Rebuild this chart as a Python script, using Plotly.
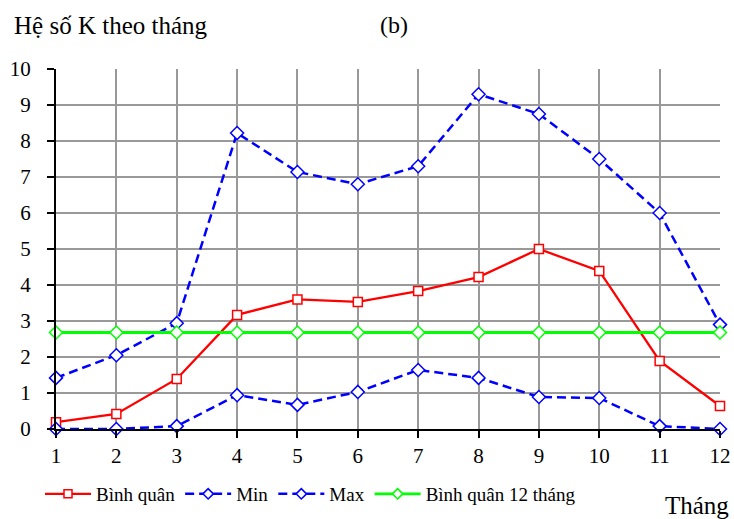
import plotly.graph_objects as go

thang = list(range(1, 13))
binh_quan = [0.19, 0.42, 1.39, 3.17, 3.60, 3.53, 3.83, 4.22, 5.00, 4.39, 1.89, 0.64]
k_min = [0.0, 0.0, 0.08, 0.94, 0.67, 1.03, 1.64, 1.42, 0.89, 0.86, 0.08, 0.0]
k_max = [1.42, 2.05, 2.94, 8.22, 7.14, 6.80, 7.30, 9.30, 8.75, 7.50, 6.00, 2.90]
binh_quan_12 = [2.68] * 12

FONT = "Liberation Serif"
DASH = "9px,5px"

series = [
    ("Bình quân", binh_quan, "#ff0000", "square", None, 2.3, 9),
    ("Min", k_min, "#0000ff", "diamond", DASH, 2.5, 10),
    ("Max", k_max, "#0000ff", "diamond", DASH, 2.5, 10),
    ("Bình quân 12 tháng", binh_quan_12, "#00ff00", "diamond", None, 2.8, 10),
]

fig = go.Figure()
for name, vals, color, symbol, dash, lw, ms in series:
    fig.add_trace(go.Scatter(
        x=thang, y=vals, name=name, mode="lines+markers", showlegend=False,
        line=dict(color=color, width=lw, dash=dash),
        marker=dict(symbol=symbol, size=ms, color="white",
                    line=dict(color=color, width=1.5)),
        cliponaxis=False))
# legend entries with smaller symbols
for name, vals, color, symbol, dash, lw, ms in series:
    fig.add_trace(go.Scatter(
        x=[None], y=[None], name=name, mode="lines+markers",
        line=dict(color=color, width=lw, dash=dash),
        marker=dict(symbol=symbol, size=8, color="white",
                    line=dict(color=color, width=1.5))))

W, H = 734, 519
L, R, T, B = 56, 14, 69, 90
pw, ph = W - L - R, H - T - B


def px_to_paper(px, py):
    return (px - L) / pw, (H - B - py) / ph


texts = [
    ("Hệ số K theo tháng", 12, 25, "left", 25),
    ("(b)", 378, 25, "left", 24),
    ("Tháng", 731, 506, "right", 25),
]
annotations = []
for txt, px, py, anchor, size in texts:
    ax, ay = px_to_paper(px, py)
    annotations.append(dict(text=txt, xref="paper", yref="paper", x=ax, y=ay,
                            xanchor=anchor, yanchor="middle", showarrow=False,
                            font=dict(family=FONT, size=size, color="black")))

lx, ly = px_to_paper(40, 494)
fig.update_layout(
    width=W, height=H,
    margin=dict(l=L, r=R, t=T, b=B, autoexpand=False),
    paper_bgcolor="white", plot_bgcolor="white",
    font=dict(family=FONT, size=21, color="black"),
    showlegend=True,
    legend=dict(orientation="h", x=lx, xanchor="left", y=ly, yanchor="middle",
                font=dict(family=FONT, size=19, color="black"), itemwidth=46,
                tracegroupgap=0, bgcolor="rgba(0,0,0,0)"),
    annotations=annotations,
)

axis_style = dict(showgrid=True, gridcolor="#999999", gridwidth=1.5,
                  showline=True, linecolor="black", linewidth=2,
                  ticks="outside", ticklen=7, tickcolor="black", tickwidth=1.5,
                  zeroline=False, automargin=False,
                  tickfont=dict(family=FONT, size=21, color="black"))
fig.update_xaxes(range=[1, 12], tickvals=thang, **axis_style)
fig.update_yaxes(range=[0, 10], dtick=1, ticklabelstandoff=12, **axis_style)

fig.write_html("out.html")
